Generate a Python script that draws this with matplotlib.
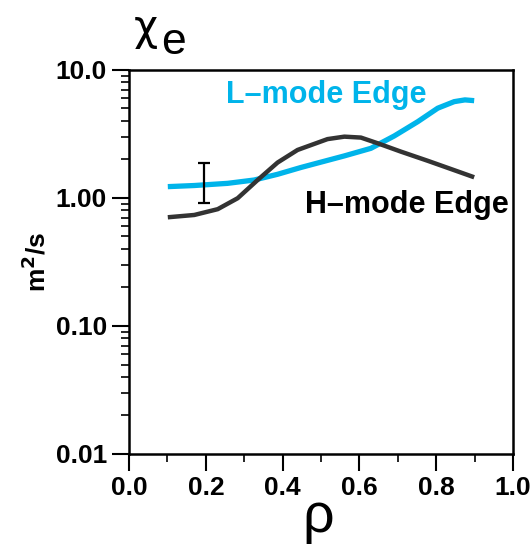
import matplotlib
matplotlib.use("Agg")
import matplotlib.pyplot as plt
from matplotlib.ticker import FixedLocator, MultipleLocator, LogLocator, NullFormatter

# L-mode edge chi_e profile
rho_l = [0.101, 0.170, 0.257, 0.326, 0.387, 0.448, 0.496, 0.561, 0.630,
         0.691, 0.752, 0.804, 0.847, 0.875, 0.899]
chi_l = [1.225, 1.25, 1.30, 1.38, 1.53, 1.73, 1.89, 2.13, 2.44,
         3.05, 3.94, 5.02, 5.65, 5.83, 5.75]

# H-mode edge chi_e profile
rho_h = [0.101, 0.170, 0.231, 0.283, 0.335, 0.387, 0.439, 0.517, 0.561,
         0.604, 0.648, 0.708, 0.778, 0.839, 0.899]
chi_h = [0.706, 0.736, 0.817, 0.995, 1.38, 1.89, 2.37, 2.88, 3.01,
         2.96, 2.67, 2.30, 1.95, 1.68, 1.45]

# error bar
err_x = 0.194
err_lo = 0.91
err_hi = 1.89

yticks = [0.01, 0.1, 1.0, 10.0]
ylabels = ["0.01", "0.10", "1.00", "10.0"]
xticks = [0.0, 0.2, 0.4, 0.6, 0.8, 1.0]

plt.rcParams["font.family"] = ["Liberation Sans", "DejaVu Sans"]

fig = plt.figure(figsize=(5.31, 5.46), dpi=100)
ax = fig.add_axes([0.243, 0.1685, 0.723, 0.7035])

ax.plot(rho_l, chi_l, color="#00b4ea", lw=3.8, solid_capstyle="butt",
        solid_joinstyle="round")
ax.plot(rho_h, chi_h, color="#333333", lw=3.2, solid_capstyle="butt",
        solid_joinstyle="round")
mid = (err_lo * err_hi) ** 0.5
ax.errorbar([err_x], [mid], yerr=[[mid - err_lo], [err_hi - mid]],
            color="black", lw=1.6, capsize=4.5, capthick=1.6)

ax.text(0.515, 6.4, "L\u2013mode Edge", color="#00b4ea", fontsize=22,
        fontweight="bold", ha="center", va="center")
ax.text(0.725, 0.88, "H\u2013mode Edge", color="black", fontsize=22,
        fontweight="bold", ha="center", va="center")

ax.set_yscale("log")
ax.set_xlim(0, 1)
ax.set_ylim(0.01, 10)
ax.yaxis.set_major_locator(FixedLocator(yticks))
ax.set_yticklabels(ylabels)
ax.yaxis.set_minor_locator(LogLocator(base=10, subs=range(2, 10)))
ax.yaxis.set_minor_formatter(NullFormatter())
ax.set_xticks(xticks)
ax.set_xticklabels([f"{v:.1f}" for v in xticks])
ax.xaxis.set_minor_locator(MultipleLocator(0.1))

ax.tick_params(which="major", direction="out", length=12, width=1.5,
               labelsize=19, pad=4)
ax.tick_params(which="minor", direction="out", length=6, width=1.2)
for lab in ax.get_xticklabels() + ax.get_yticklabels():
    lab.set_fontweight("bold")
for s in ax.spines.values():
    s.set_linewidth(1.8)

ax.set_ylabel("m$^\\mathbf{2}$/s", fontsize=19, fontweight="bold", labelpad=4)
fig.text(0.6, 0.004, "\u03c1", fontsize=40, ha="center", va="bottom")
fig.text(0.252, 0.948, "\u03c7", fontsize=30, ha="left", va="center",
         family="DejaVu Sans")
fig.text(0.303, 0.922, "e", fontsize=32, ha="left", va="center")

fig.savefig("out.png", dpi=100)
